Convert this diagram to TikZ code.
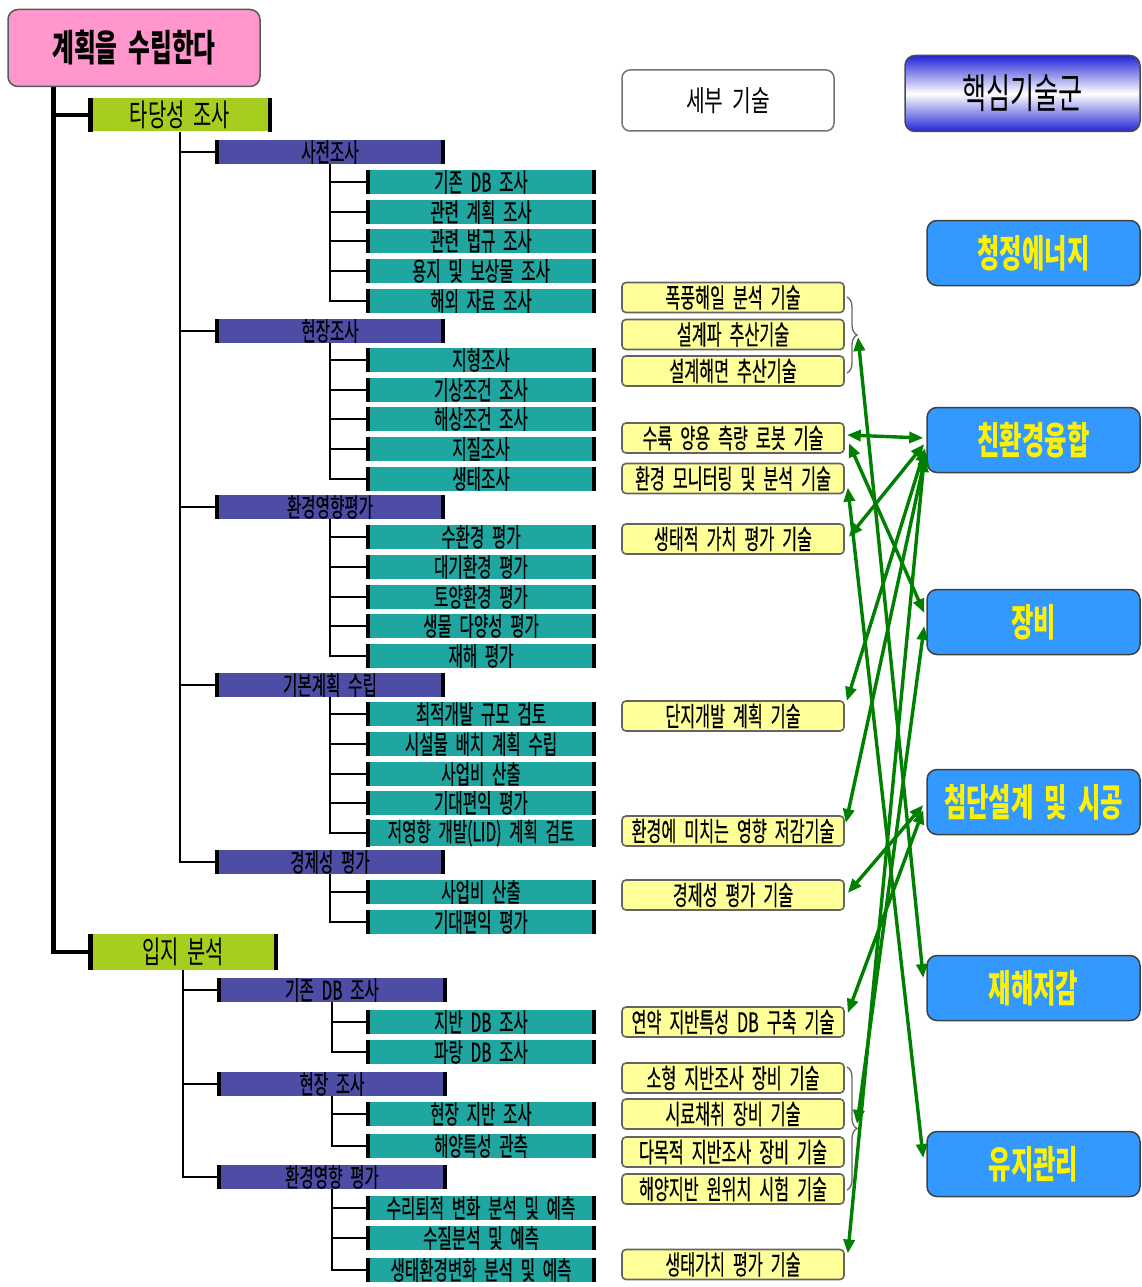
\documentclass[tikz,border=0pt]{standalone}
\usepackage{fontspec}
\newfontfamily\kra[FakeStretch=0.6,WordSpace=2.2,FakeBold=0.4]{Noto Sans CJK KR}
\newfontfamily\krb[FakeStretch=0.64,WordSpace=2]{Noto Sans CJK KR}
\newfontfamily\krc[FakeStretch=0.7,WordSpace=2]{Noto Sans CJK KR}
\usetikzlibrary{arrows.meta,calc,decorations.pathreplacing}
\definecolor{pinkf}{RGB}{255,150,204}
\definecolor{limef}{RGB}{166,206,30}
\definecolor{purf}{RGB}{77,77,166}
\definecolor{tealf}{RGB}{32,166,160}
\definecolor{yelf}{RGB}{255,255,153}
\definecolor{bluef}{RGB}{51,153,255}
\definecolor{arrg}{RGB}{0,128,0}
\definecolor{gbord}{RGB}{100,100,100}
\definecolor{hblue}{RGB}{35,35,215}
\newcommand{\leafbar}[4]{%
  \node[l3bar] (#2) at (481,#3) {#4};
  \fill (#2.north west) rectangle ([xshift=4pt]#2.south west);
  \fill ([xshift=-4pt]#2.north east) rectangle (#2.south east);
  \draw[thn] (#1.south) |- (#2.west);}
\newcommand{\midbar}[5]{%
  \node[l2bar] (#2) at (#4,#3) {#5};
  \fill (#2.north west) rectangle ([xshift=4pt]#2.south west);
  \fill ([xshift=-4pt]#2.north east) rectangle (#2.south east);
  \draw[thn] (#1.south) |- (#2.west);}
\begin{document}
\begin{tikzpicture}[x=1pt,y=-1pt,
  title/.style={draw=black!65, line width=1.5pt, fill=pinkf, rounded corners=10pt, minimum width=252pt, minimum height=77pt, inner sep=0pt, font=\krb\bfseries\fontsize{37}{37}\selectfont},
  l1bar/.style={fill=limef, inner sep=0pt, minimum width=184pt, minimum height=33pt, font=\krb\fontsize{31}{31}\selectfont},
  l2bar/.style={fill=purf, inner sep=0pt, minimum width=229pt, minimum height=20pt, font=\kra\fontsize{26}{26}\selectfont},
  l3bar/.style={fill=tealf, inner sep=0pt, minimum width=229pt, minimum height=21pt, font=\kra\fontsize{26}{26}\selectfont},
  tech/.style={fill=yelf, draw=gbord, line width=1.6pt, rounded corners=4pt, minimum width=222pt, minimum height=30pt, inner sep=0pt, font=\kra\fontsize{27}{27}\selectfont},
  grp/.style={fill=bluef, draw=black!75, line width=1.5pt, rounded corners=10pt, minimum width=213pt, minimum height=65pt, inner sep=0pt, text=yellow, font=\krb\bfseries\fontsize{38}{38}\selectfont},
  thk/.style={line width=4.5pt},
  thn/.style={line width=1.6pt},
  arr/.style={draw=arrg, line width=3.4pt, {Triangle[length=14pt,width=11pt]}-{Triangle[length=14pt,width=11pt]}},
  brc/.style={draw=black!60, line width=1.3pt, decorate, decoration={brace, amplitude=10pt}}
]
\useasboundingbox (0,0) rectangle (1141,1287);
\fill[white] (0,0) rectangle (1141,1287);

% title and level 1
\node[title] (t) at (134,48) {계획을 수립한다};
\node[l1bar] (la) at (180,115) {타당성 조사};
\node[l1bar, minimum width=190pt, minimum height=36pt] (lb) at (183,952) {입지 분석};
\foreach \n in {la,lb}{
  \fill (\n.north west) rectangle ([xshift=5pt]\n.south west);
  \fill ([xshift=-4pt]\n.north east) rectangle (\n.south east);}
\draw[thk] ([xshift=46pt]t.south west) |- (la.west);
\draw[thk] ([xshift=46pt]t.south west) |- (lb.west);

% level 2 under 타당성 조사
\midbar{la}{pa}{152}{330}{사전조사}
\midbar{la}{pb}{331}{330}{현장조사}
\midbar{la}{pc}{507}{330}{환경영향평가}
\midbar{la}{pd}{685}{330}{기본계획 수립}
\midbar{la}{pe}{862}{330}{경제성 평가}
% level 2 under 입지 분석
\midbar{lb}{qa}{990}{332}{기존 DB 조사}
\midbar{lb}{qb}{1084}{332}{현장 조사}
\midbar{lb}{qc}{1177}{332}{환경영향 평가}

% level 3
\leafbar{pa}{a1}{182}{기존 DB 조사}
\leafbar{pa}{a2}{212}{관련 계획 조사}
\leafbar{pa}{a3}{241}{관련 법규 조사}
\leafbar{pa}{a4}{271}{용지 및 보상물 조사}
\leafbar{pa}{a5}{301}{해외 자료 조사}
\leafbar{pb}{b1}{360}{지형조사}
\leafbar{pb}{b2}{390}{기상조건 조사}
\leafbar{pb}{b3}{419}{해상조건 조사}
\leafbar{pb}{b4}{449}{지질조사}
\leafbar{pb}{b5}{479}{생태조사}
\leafbar{pc}{c1}{537}{수환경 평가}
\leafbar{pc}{c2}{567}{대기환경 평가}
\leafbar{pc}{c3}{597}{토양환경 평가}
\leafbar{pc}{c4}{626}{생물 다양성 평가}
\leafbar{pc}{c5}{656}{재해 평가}
\leafbar{pd}{d1}{714}{최적개발 규모 검토}
\leafbar{pd}{d2}{744}{시설물 배치 계획 수립}
\leafbar{pd}{d3}{774}{사업비 산출}
\leafbar{pd}{d4}{803}{기대편익 평가}
\leafbar{pd}{d5}{833}{저영향 개발(LID) 계획 검토}
\leafbar{pe}{e1}{892}{사업비 산출}
\leafbar{pe}{e2}{922}{기대편익 평가}
\leafbar{qa}{f1}{1022}{지반 DB 조사}
\leafbar{qa}{f2}{1052}{파랑 DB 조사}
\leafbar{qb}{g1}{1114}{현장 지반 조사}
\leafbar{qb}{g2}{1146}{해양특성 관측}
\leafbar{qc}{h1}{1208}{수리퇴적 변화 분석 및 예측}
\leafbar{qc}{h2}{1238}{수질분석 및 예측}
\leafbar{qc}{h3}{1270}{생태환경변화 분석 및 예측}

% headers
\node[draw=black!55, line width=1.5pt, fill=white, rounded corners=8pt, minimum width=212pt, minimum height=61pt, inner sep=0pt, font=\krc\fontsize{29}{29}\selectfont] (sd) at (728,100.5) {세부 기술};
\node[draw=black!70, line width=1.5pt, rounded corners=10pt, minimum width=235pt, minimum height=76pt, inner sep=0pt, top color=hblue, bottom color=hblue, middle color=white, font=\krb\fontsize{41}{41}\selectfont] (hd) at (1022.5,93.5) {핵심기술군};

% detail technologies
\node[tech] (ya) at (733,297.5) {폭풍해일 분석 기술};
\node[tech] (yb) at (733,334.5) {설계파 추산기술};
\node[tech] (yc) at (733,371) {설계해면 추산기술};
\node[tech] (yd) at (733,438) {수륙 양용 측량 로봇 기술};
\node[tech] (ye) at (733,478.5) {환경 모니터링 및 분석 기술};
\node[tech] (yf) at (733,539) {생태적 가치 평가 기술};
\node[tech] (yg) at (733,716) {단지개발 계획 기술};
\node[tech] (yh) at (733,831) {환경에 미치는 영향 저감기술};
\node[tech] (yi) at (733,895) {경제성 평가 기술};
\node[tech] (yj) at (733,1022) {연약 지반특성 DB 구축 기술};
\node[tech] (yk) at (733,1078) {소형 지반조사 장비 기술};
\node[tech] (yl) at (733,1114) {시료채취 장비 기술};
\node[tech] (ym) at (733,1152) {다목적 지반조사 장비 기술};
\node[tech] (yn) at (733,1189) {해양지반 원위치 시험 기술};
\node[tech] (yo) at (733,1264.5) {생태가치 평가 기술};

% braces
\draw[brc] (847,297) -- (847,373);
\coordinate (br1) at (858,337);
\draw[brc] (847,1067) -- (847,1190);
\coordinate (br2) at (857,1124);

% core technology groups
\node[grp] (ga) at (1033.5,253) {청정에너지};
\node[grp] (gb) at (1033.5,440) {친환경융합};
\node[grp] (gc) at (1033.5,622) {장비};
\node[grp] (gd) at (1033.5,802) {첨단설계 및 시공};
\node[grp] (ge) at (1033.5,988) {재해저감};
\node[grp] (gf) at (1033.5,1164) {유지관리};

% arrows
\draw[arr] ($(yd.east)+(2,-3)$) -- ($(gb.west)+(-3,-2)$);
\draw[arr] ($(yd.east)+(4,5)$) -- ($(gc.west)+(-2,-9)$);
\draw[arr] ($(ye.east)+(3,9)$) -- ($(gf.west)+(-3,-6)$);
\draw[arr] ($(yf.east)+(4,-2)$) -- ($(gb.west)+(-2,4)$);
\draw[arr] ($(yg.east)+(2,-15)$) -- ($(gb.west)+(-1,8)$);
\draw[arr] ($(yh.east)+(1,-8)$) -- ($(gb.west)+(0,12)$);
\draw[arr] ($(yo.east)+(3,-11)$) -- ($(gb.west)+(-2,18)$);
\draw[arr] (br1) -- ($(ge.west)+(-3,-10)$);
\draw[arr] (br2) -- ($(gc.west)+(-2,4)$);
\draw[arr] ($(yi.east)+(3,-2)$) -- ($(gd.west)+(-3,3)$);
\draw[arr] ($(yj.east)+(3,-9)$) -- ($(gd.west)+(-3,8)$);
\end{tikzpicture}
\end{document}
